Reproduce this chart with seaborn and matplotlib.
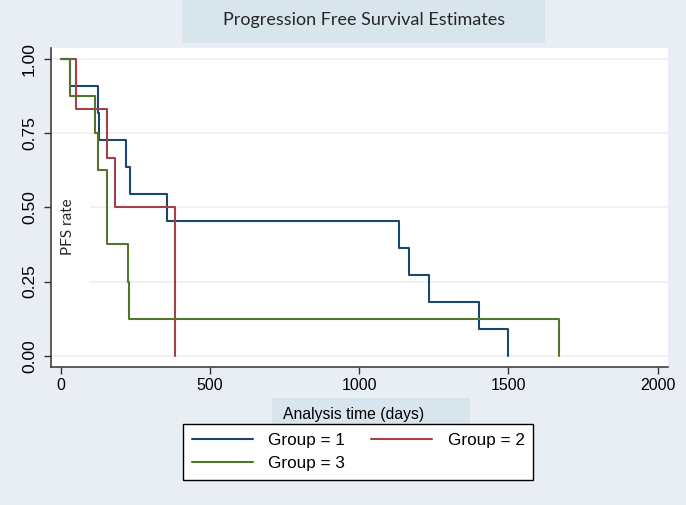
import pandas as pd
import matplotlib.pyplot as plt
import seaborn as sns
from matplotlib.patches import Rectangle

# --- Kaplan-Meier step values ---
g1_time = [0, 30, 126, 129, 218, 233, 358, 1134, 1167, 1233, 1401, 1500]
g1_surv = [1.0, 0.909, 0.818, 0.727, 0.636, 0.545, 0.455, 0.364, 0.273, 0.182, 0.091, 0.0]

g2_time = [0, 52, 157, 182, 384]
g2_surv = [1.0, 0.833, 0.667, 0.5, 0.0]

g3_time = [0, 30, 115, 126, 157, 225, 228, 1671]
g3_surv = [1.0, 0.875, 0.75, 0.625, 0.375, 0.25, 0.125, 0.0]

group_labels = ["Group = 1", "Group = 2", "Group = 3"]
group_colors = ["#1a476f", "#a0424a", "#55752f"]
x_ticks = [0, 500, 1000, 1500, 2000]
y_ticks = [0.0, 0.25, 0.5, 0.75, 1.0]

df = pd.concat([
    pd.DataFrame({"time": t, "surv": s, "group": g})
    for t, s, g in zip([g1_time, g2_time, g3_time],
                       [g1_surv, g2_surv, g3_surv], group_labels)
])

bg = "#e8eef3"
box = "#d9e5ed"

sns.set_theme(style="white")
plt.rcParams["font.family"] = ["Liberation Sans", "DejaVu Sans"]

fig = plt.figure(figsize=(6.86, 5.05), dpi=100, facecolor=bg)
ax = fig.add_axes([51 / 686, 1 - 366.7 / 505, 617 / 686, (366.7 - 48) / 505])
ax.set_facecolor("white")

sns.lineplot(data=df, x="time", y="surv", hue="group", palette=group_colors,
             drawstyle="steps-post", estimator=None, sort=False,
             linewidth=1.5, ax=ax, legend=True)

ax.set_xlim(-32, 2035)
ax.set_ylim(-0.037, 1.037)
ax.set_xticks(x_ticks)
ax.set_yticks(y_ticks)
ax.set_xticklabels([str(v) for v in x_ticks], fontsize=11.5, color="black")
ax.set_yticklabels([f"{v:.2f}" for v in y_ticks], fontsize=12.5, color="black",
                   rotation=90, va="center")
ax.tick_params(axis="both", direction="out", length=5, width=1,
               color="#333333", bottom=True, left=True)
ax.tick_params(axis="x", pad=3)
ax.tick_params(axis="y", pad=5)

ax.set_axisbelow(True)
ax.grid(axis="y", color="#edf1f4", linewidth=1.3)
ax.grid(axis="x", visible=False)
for side in ["top", "right"]:
    ax.spines[side].set_visible(False)
for side in ["left", "bottom"]:
    ax.spines[side].set_color("#333333")
    ax.spines[side].set_linewidth(1.1)
ax.set_xlabel("")
ax.set_ylabel("")

# white patch behind the in-plot y label (hides part of the gridlines)
ax.add_patch(Rectangle((0, 0.1), 0.063, 0.55, transform=ax.get_yaxis_transform(),
                       facecolor="white", edgecolor="none", zorder=1))
ax.text(0.027, 0.44, "PFS rate", transform=ax.transAxes, rotation=90,
        ha="center", va="center", fontsize=11, family=["Lato", "DejaVu Sans"])

# title box
fig.patches.append(Rectangle((182 / 686, 1 - 43 / 505), 363 / 686, 43 / 505,
                             transform=fig.transFigure, facecolor=box,
                             edgecolor="none", zorder=0))
fig.text(364 / 686, 1 - 20 / 505, "Progression Free Survival Estimates",
         ha="center", va="center", fontsize=13, family=["Lato", "DejaVu Sans"])

# x axis title box
fig.patches.append(Rectangle((272 / 686, 1 - 428 / 505), 198 / 686, 30 / 505,
                             transform=fig.transFigure, facecolor=box,
                             edgecolor="none", zorder=0))
fig.text(283 / 686, 1 - 415 / 505, "Analysis time (days)",
         ha="left", va="center", fontsize=11.3, color="black")

# legend: row 1 -> groups 1 and 2, row 2 -> group 3
handles, labels = ax.get_legend_handles_labels()
ax.get_legend().remove()
order = [0, 2, 1]
leg = fig.legend([handles[i] for i in order], [labels[i] for i in order],
                 loc="upper left", bbox_to_anchor=(183 / 686, 1 - 424 / 505),
                 ncol=2, fontsize=12.3, frameon=True, fancybox=False,
                 edgecolor="black", framealpha=1, handlelength=3.6,
                 handletextpad=0.9, columnspacing=1.5, borderpad=0.5,
                 labelspacing=0.5, borderaxespad=0)
leg.get_frame().set_linewidth(1.0)
for t in leg.get_texts():
    t.set_color("black")
for line in leg.get_lines():
    line.set_linewidth(1.5)

fig.savefig("out.png", dpi=100, facecolor=fig.get_facecolor())
